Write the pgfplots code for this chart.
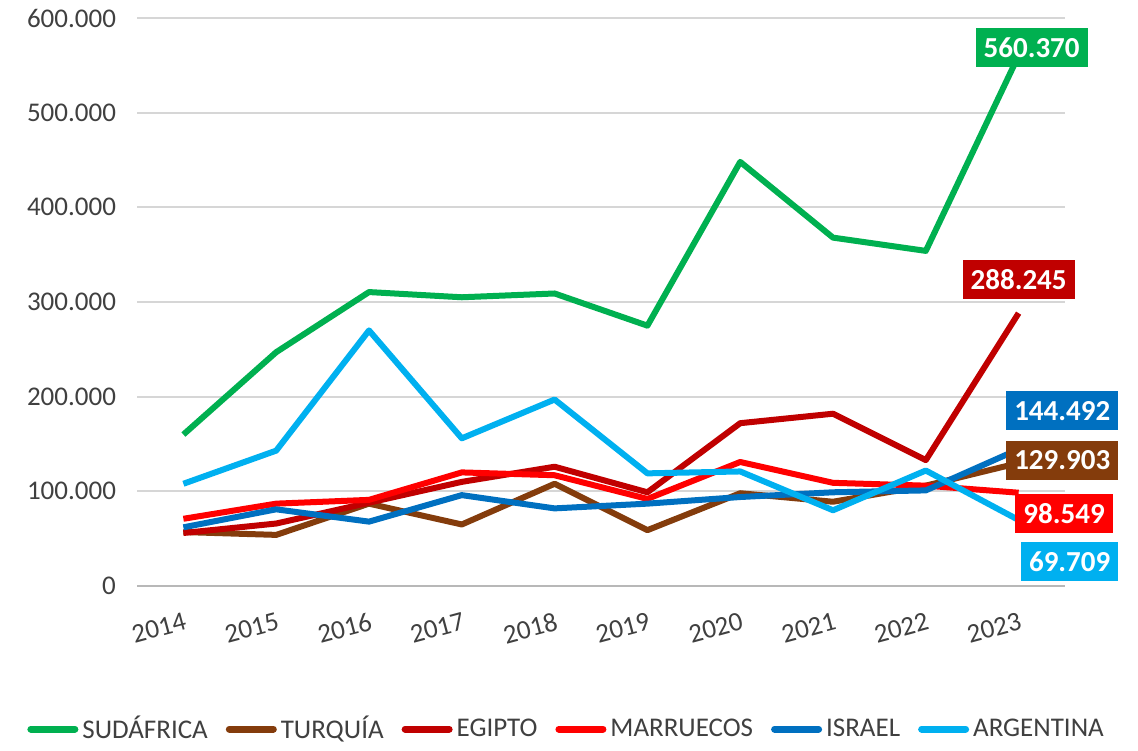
\documentclass[border=0pt]{standalone}
\usepackage{pgfplots}
\pgfplotsset{compat=1.18}
\usepackage{fontspec}
\setmainfont{Carlito}

\definecolor{cSud}{HTML}{00B050}
\definecolor{cTur}{HTML}{843C0C}
\definecolor{cEgi}{HTML}{C00000}
\definecolor{cMar}{HTML}{FF0000}
\definecolor{cIsr}{HTML}{0070C0}
\definecolor{cArg}{HTML}{00B0F0}
\definecolor{txt}{HTML}{404040}

\begin{document}
\begin{tikzpicture}
\useasboundingbox (-68.5pt,-82pt) rectangle (500.5pt,293pt);
\begin{axis}[
  at={(0,0)}, anchor=south west,
  scale only axis, width=464pt, height=284pt,
  xmin=-0.5, xmax=9.5, ymin=0, ymax=600000,
  xtick={0,...,9},
  xticklabels={2014,2015,2016,2017,2018,2019,2020,2021,2022,2023},
  ytick={0,100000,...,600000},
  scaled y ticks=false,
  yticklabel style={/pgf/number format/fixed, /pgf/number format/1000 sep={.},
    /pgf/number format/assume math mode=true, xshift=-7pt},
  font=\fontsize{13.5}{15}\selectfont,
  tick label style={text=txt},
  xticklabel style={rotate=15, anchor=north east, xshift=0pt, yshift=-9pt},
  axis x line*=bottom, axis y line*=left,
  x axis line style={draw=black!28, line width=1pt},
  y axis line style={draw=none},
  major tick length=0pt,
  ymajorgrids, grid style={draw=black!16, line width=1pt},
  clip=false,
  legend columns=6,
  legend style={at={(0.464,-0.252)}, anchor=center, draw=none, fill=none,
    font=\fontsize{13.5}{15}\selectfont, text=txt, inner ysep=1pt,
    /tikz/every even column/.append style={column sep=7pt}},
  legend image code/.code={\draw[#1, line width=3.5pt, line cap=round] (0pt,0pt) -- (22pt,0pt);},
  every axis plot/.append style={line width=3pt, line join=round, mark=none},
]
\addplot[cSud] coordinates {(0,160000)(1,247000)(2,310500)(3,305000)(4,309000)(5,275000)(6,448000)(7,368000)(8,354000)(9,560370)};
\addlegendentry{SUDÁFRICA}
\addplot[cTur] coordinates {(0,57000)(1,54000)(2,87000)(3,65000)(4,108000)(5,59000)(6,98000)(7,89000)(8,106000)(9,129903)};
\addlegendentry{TURQUÍA}
\addplot[cEgi] coordinates {(0,56000)(1,66000)(2,88000)(3,110000)(4,126000)(5,99000)(6,172000)(7,182000)(8,133000)(9,288245)};
\addlegendentry{EGIPTO}
\addplot[cMar] coordinates {(0,71000)(1,87000)(2,91000)(3,120000)(4,117000)(5,92000)(6,131000)(7,109000)(8,106000)(9,98549)};
\addlegendentry{MARRUECOS}
\addplot[cIsr] coordinates {(0,62000)(1,81000)(2,68000)(3,96000)(4,82000)(5,87000)(6,94000)(7,99000)(8,101000)(9,144492)};
\addlegendentry{ISRAEL}
\addplot[cArg] coordinates {(0,108000)(1,143000)(2,270000)(3,156000)(4,197000)(5,119000)(6,121000)(7,80000)(8,122000)(9,69709)};
\addlegendentry{ARGENTINA}

\tikzset{lab/.style={text=white, font=\fontsize{14.5}{16}\selectfont\bfseries, inner xsep=4pt, minimum height=19.5pt, anchor=center}}
\node[lab, fill=cSud] at (axis cs:9.14,568800) {560.370};
\node[lab, fill=cEgi] at (axis cs:9.0,324000) {288.245};
\node[lab, fill=cIsr] at (axis cs:9.47,185000) {144.492};
\node[lab, fill=cTur] at (axis cs:9.47,133000) {129.903};
\node[lab, fill=cMar] at (axis cs:9.49,77000) {98.549};
\node[lab, fill=cArg] at (axis cs:9.55,26000) {69.709};
\end{axis}
\end{tikzpicture}
\end{document}
